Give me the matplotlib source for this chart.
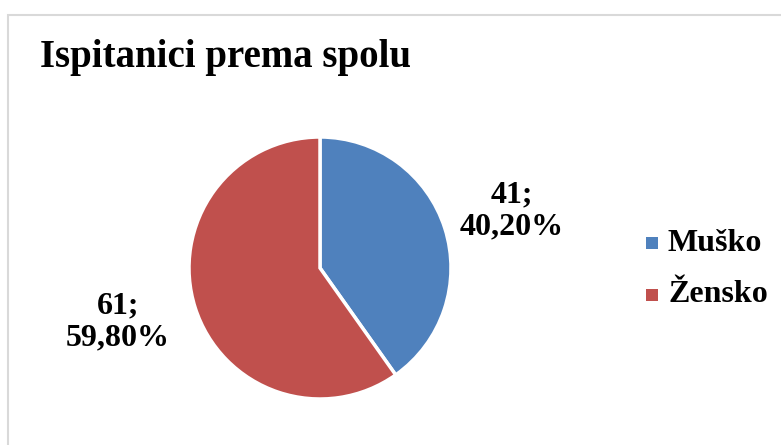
import matplotlib.pyplot as plt
from matplotlib.patches import Rectangle

# data
categories = ["Muško", "Žensko"]
counts = [41, 61]
percents = ["40,20%", "59,80%"]
colors = ["#4F81BD", "#C0504D"]

plt.rcParams['font.family'] = ['Liberation Serif', 'DejaVu Serif']

fig = plt.figure(figsize=(7.81, 4.45), dpi=100, facecolor='white')

# chart border (light gray frame)
fig.patches.append(Rectangle((8 / 781, -0.1), 1.0, (445 - 15) / 445 + 0.1,
                             transform=fig.transFigure, fill=False,
                             edgecolor='#D9D9D9', linewidth=1.5))

fig.text(40 / 781, 1 - 58 / 445, "Ispitanici prema spolu", fontsize=28,
         fontweight='bold', ha='left', va='center')

# pie axes
cx, cy, r = 320, 268, 131
ax = fig.add_axes([(cx - r) / 781, 1 - (cy + r) / 445, 2 * r / 781, 2 * r / 445])
wedges, _ = ax.pie(counts, colors=colors, startangle=90, counterclock=False,
                   wedgeprops=dict(edgecolor='white', linewidth=2.5))
ax.set_aspect('auto')
ax.set_xlim(-1, 1)
ax.set_ylim(-1, 1)
ax.axis('off')

# data labels
label_pos = [(512, 211), (118, 322)]
for (x, y), n, p in zip(label_pos, counts, percents):
    fig.text(x / 781, 1 - y / 445, f"{n};\n{p}", fontsize=23, fontweight='bold',
             ha='center', va='center', linespacing=1.15)

# legend
leg_y = [243, 295]
for y, lab, col in zip(leg_y, categories, colors):
    fig.patches.append(Rectangle((646 / 781, 1 - (y + 6) / 445), 12 / 781, 12 / 445,
                                 transform=fig.transFigure, facecolor=col,
                                 edgecolor='none'))
    fig.text(668 / 781, 1 - y / 445, lab, fontsize=23, fontweight='bold',
             ha='left', va='center')

fig.savefig("out.png", dpi=100, facecolor='white')
